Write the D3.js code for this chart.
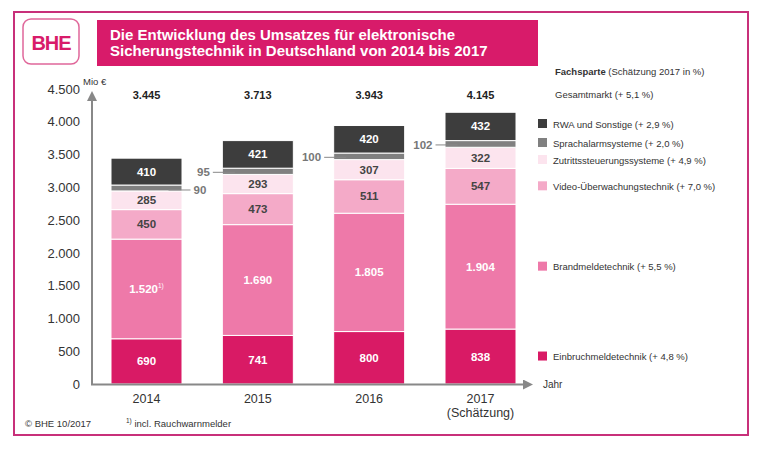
<!DOCTYPE html>
<html><head><meta charset="utf-8">
<script src="https://cdn.jsdelivr.net/npm/d3@7"></script>
<style>body{margin:0;background:#fff;}svg{display:block;font-family:"Liberation Sans",Arial,sans-serif;}</style>
</head><body>
<svg id="c" width="760" height="450"></svg>
<script>
const years = ["2014","2015","2016","2017"];
const yearLabels = [["2014"],["2015"],["2016"],["2017","(Schätzung)"]];
const seriesNames = ["Einbruchmeldetechnik","Brandmeldetechnik","Video-Überwachungstechnik","Zutrittssteuerungssysteme","Sprachalarmsysteme","RWA und Sonstige"];
const seriesGrowth = ["+ 4,8 %","+ 5,5 %","+ 7,0 %","+ 4,9 %","+ 2,0 %","+ 2,9 %"];
const einbruch = [690,741,800,838];
const brand = [1520,1690,1805,1904];
const video = [450,473,511,547];
const zutritt = [285,293,307,322];
const sprach = [90,95,100,102];
const rwa = [410,421,420,432];
const totals = [3445,3713,3943,4145];
const yTicks = [0,500,1000,1500,2000,2500,3000,3500,4000,4500];
const colors = ["#D91A65","#EE79A9","#F4AAC8","#FCE4EE","#808080","#3D3D3D"];
const labelColors = ["#fff","#fff","#444","#444",null,"#fff"];

const seriesVals = [einbruch,brand,video,zutritt,sprach,rwa];
const svg = d3.select("#c");
const loc = d3.formatLocale({decimal:",",thousands:".",grouping:[3],currency:["","€"]});
const fmt = loc.format(",d");
const pink = "#D81B6A";

// Frame
svg.append("rect").attr("x",14).attr("y",12).attr("width",734).attr("height",423)
  .attr("fill","none").attr("stroke","#C8307A").attr("stroke-width",2);
// Logo
svg.append("rect").attr("x",23).attr("y",19).attr("width",56).attr("height",45).attr("rx",8)
  .attr("fill","none").attr("stroke","#E0679A").attr("stroke-width",1.5);
svg.append("text").attr("x",51).attr("y",50).attr("text-anchor","middle").attr("font-size",20)
  .attr("font-weight","bold").attr("fill",pink).attr("letter-spacing",-1).text("BHE");
// Title
svg.append("rect").attr("x",97).attr("y",20).attr("width",441).attr("height",46).attr("fill",pink);
svg.append("text").attr("x",110).attr("y",40).attr("fill","#fff").attr("font-size",15).attr("font-weight","bold")
  .text("Die Entwicklung des Umsatzes für elektronische");
svg.append("text").attr("x",110).attr("y",56).attr("fill","#fff").attr("font-size",15).attr("font-weight","bold")
  .text("Sicherungstechnik in Deutschland von 2014 bis 2017");

const y = d3.scaleLinear().domain([0,4500]).range([384,89]);
const x = d3.scalePoint().domain(years).range([146.5,480.5]);
const bw = 71;

// stacks
const rows = years.map((yr,i)=>{const o={year:yr}; seriesNames.forEach((s,j)=>o[s]=seriesVals[j][i]); return o;});
const stack = d3.stack().keys(seriesNames)(rows);

stack.forEach((layer,j)=>{
  const g = svg.append("g");
  g.selectAll("rect").data(layer).join("rect")
    .attr("x",d=>x(d.data.year)-bw/2).attr("width",bw)
    .attr("y",d=>y(d[1])).attr("height",d=>y(d[0])-y(d[1]))
    .attr("fill",colors[j]).attr("stroke","#fff").attr("stroke-width",1);
  if(labelColors[j]){
    g.selectAll("text").data(layer).join("text")
      .attr("x",d=>x(d.data.year)).attr("y",d=>(y(d[0])+y(d[1]))/2+4)
      .attr("text-anchor","middle").attr("font-size",11.5).attr("font-weight","bold")
      .attr("fill",labelColors[j])
      .each(function(d,i){
        const t=d3.select(this);
        t.append("tspan").text(fmt(d[1]-d[0]));
        if(j===1 && i===0){t.append("tspan").attr("font-size",6.5).attr("dy",-5).attr("font-weight","normal").text("1)");}
      });
  } else {
    // leader labels
    layer.forEach((d,i)=>{
      const cy=(y(d[0])+y(d[1]))/2+1;
      const cx=x(d.data.year);
      if(i===0){
        svg.append("line").attr("x1",cx+22).attr("x2",cx+44).attr("y1",cy+1).attr("y2",cy+1).attr("stroke","#888").attr("stroke-width",1);
        svg.append("text").attr("x",cx+47).attr("y",cy+5).attr("font-size",11.5).attr("font-weight","bold").attr("fill","#777").text(fmt(d[1]-d[0]));
      } else {
        svg.append("line").attr("x1",cx-45).attr("x2",cx-23).attr("y1",cy).attr("y2",cy).attr("stroke","#888").attr("stroke-width",1);
        svg.append("text").attr("x",cx-48).attr("y",cy+4).attr("text-anchor","end").attr("font-size",11.5).attr("font-weight","bold").attr("fill","#777").text(fmt(d[1]-d[0]));
      }
    });
  }
});

// totals
svg.selectAll(".tot").data(totals).join("text").attr("class","tot")
  .attr("x",(d,i)=>x(years[i])).attr("y",99).attr("text-anchor","middle")
  .attr("font-size",11).attr("font-weight","bold").attr("fill","#222").text(d=>fmt(d));

// axes
const yAxis = d3.axisLeft(y).tickValues(yTicks).tickSize(0).tickPadding(12).tickFormat(fmt);
const gy = svg.append("g").attr("transform","translate(92,0)").call(yAxis);
gy.select(".domain").remove();
gy.selectAll("text").attr("font-size",13).attr("fill","#333").attr("font-family","Liberation Sans, Arial, sans-serif");

svg.append("defs").append("marker").attr("id","ar").attr("viewBox","0 0 10 10").attr("refX",5).attr("refY",5)
  .attr("markerWidth",5).attr("markerHeight",5).attr("orient","auto")
  .append("path").attr("d","M0,0L10,5L0,10z").attr("fill","#888");
svg.append("line").attr("x1",92).attr("x2",92).attr("y1",385).attr("y2",96).attr("stroke","#888").attr("stroke-width",2).attr("marker-end","url(#ar)");
svg.append("line").attr("x1",91).attr("x2",528).attr("y1",384.5).attr("y2",384.5).attr("stroke","#888").attr("stroke-width",2).attr("marker-end","url(#ar)");
svg.append("text").attr("x",83).attr("y",85).attr("font-size",9.5).attr("fill","#333").text("Mio €");
svg.append("text").attr("x",543).attr("y",388).attr("font-size",10).attr("fill","#333").text("Jahr");

// x labels
yearLabels.forEach((ls,i)=>{
  ls.forEach((l,k)=>{
    svg.append("text").attr("x",x(years[i])).attr("y",403+k*14).attr("text-anchor","middle")
      .attr("font-size",12.5).attr("fill","#333").text(l);
  });
});

// legend
const lx=538;
const leg = svg.append("text").attr("x",555).attr("y",75).attr("font-size",9.5).attr("fill","#333");
leg.append("tspan").attr("font-weight","bold").text("Fachsparte ");
leg.append("tspan").text("(Schätzung 2017 in %)");
svg.append("text").attr("x",555).attr("y",98).attr("font-size",9.5).attr("fill","#333").text("Gesamtmarkt (+ 5,1 %)");
const last = stack.map(l=>l[3]);
const legY = last.map(d=>(y(d[0])+y(d[1]))/2);
legY[4]=143; legY[3]=160; legY[5]=124;
seriesNames.forEach((s,j)=>{
  svg.append("rect").attr("x",lx).attr("y",legY[j]-5).attr("width",9).attr("height",9).attr("fill",colors[j]);
  svg.append("text").attr("x",553).attr("y",legY[j]+3.5).attr("font-size",9.5).attr("fill","#333")
    .text(s+" ("+seriesGrowth[j]+")");
});

// footer
svg.append("text").attr("x",25).attr("y",427).attr("font-size",9.5).attr("fill","#333").text("© BHE 10/2017");
const fn = svg.append("text").attr("x",126).attr("y",427).attr("font-size",9.5).attr("fill","#333");
fn.append("tspan").attr("font-size",6.5).attr("dy",-4).text("1)");
fn.append("tspan").attr("dy",4).text(" incl. Rauchwarnmelder");
</script>
</body></html>
